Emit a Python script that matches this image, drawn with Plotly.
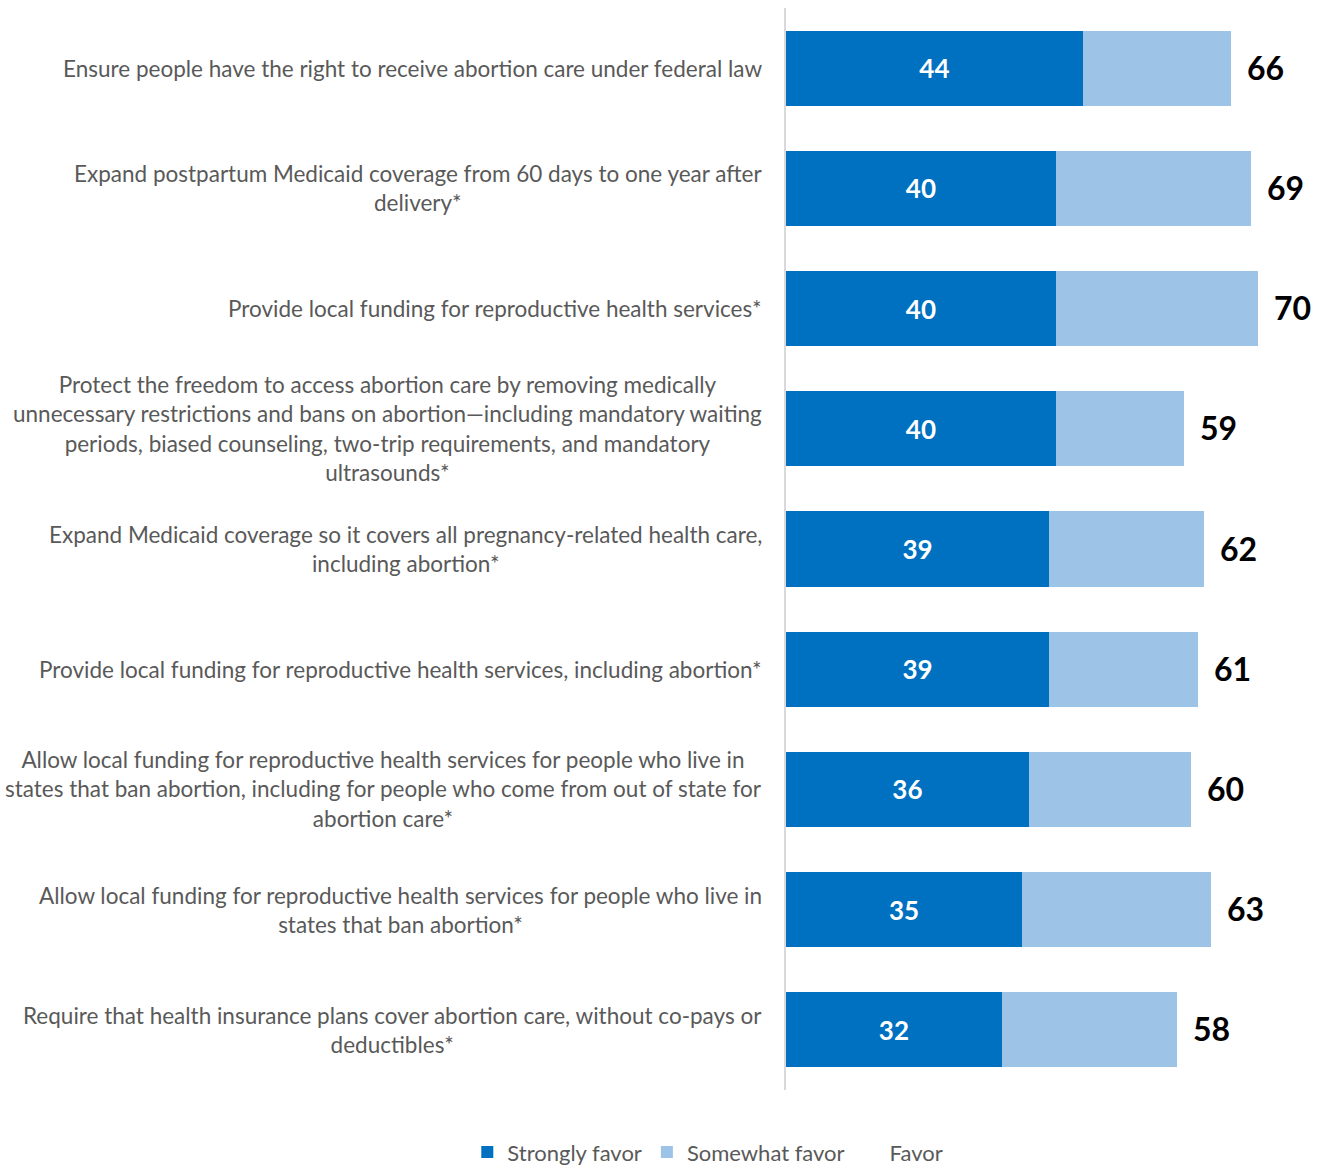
import plotly.graph_objects as go

categories = [
    "Ensure people have the right to receive abortion care under federal law",
    "Expand postpartum Medicaid coverage from 60 days to one year after<br>delivery*",
    "Provide local funding for reproductive health services*",
    "Protect the freedom to access abortion care by removing medically<br>unnecessary restrictions and bans on abortion\u2014including mandatory waiting<br>periods, biased counseling, two-trip requirements, and mandatory<br>ultrasounds*",
    "Expand Medicaid coverage so it covers all pregnancy-related health care,<br>including abortion*",
    "Provide local funding for reproductive health services, including abortion*",
    "Allow local funding for reproductive health services for people who live in<br>states that ban abortion, including for people who come from out of state for<br>abortion care*",
    "Allow local funding for reproductive health services for people who live in<br>states that ban abortion*",
    "Require that health insurance plans cover abortion care, without co-pays or<br>deductibles*",
]
strongly = [44, 40, 40, 40, 39, 39, 36, 35, 32]
favor = [66, 69, 70, 59, 62, 61, 60, 63, 58]
somewhat = [f - s for f, s in zip(favor, strongly)]

ids = [f"c{i}" for i in range(len(categories))]

fig = go.Figure()
fig.add_trace(go.Bar(
    y=ids, x=strongly, orientation="h", name="Strongly favor",
    marker=dict(color="#0070C0", line=dict(width=0)),
    text=[str(v) for v in strongly], textposition="inside", insidetextanchor="middle",
    textfont=dict(family="Lato", size=26, color="white", weight="bold"),
))
fig.add_trace(go.Bar(
    y=ids, x=somewhat, orientation="h", name="Somewhat favor",
    marker=dict(color="#9DC3E6", line=dict(width=0)),
    hoverinfo="skip",
))
fig.add_trace(go.Scatter(
    y=ids, x=favor, mode="markers", name="Favor",
    marker=dict(size=10, color="rgba(0,0,0,0)", symbol="square"),
    hoverinfo="x",
))

for cid, v in zip(ids, favor):
    fig.add_annotation(
        x=v, xref="x", y=cid, yref="y", text=str(v), showarrow=False,
        xanchor="left", yanchor="middle", xshift=14, yshift=1,
        font=dict(family="Lato", size=32, color="black", weight="bold"),
    )

for cid, label in zip(ids, categories):
    fig.add_annotation(
        x=0, xref="paper", y=cid, yref="y", text=label, showarrow=False,
        xanchor="right", yanchor="middle", align="center", xshift=-22,
        font=dict(family="Lato", size=22.5, color="#595959"),
    )

n = len(categories)
fig.update_layout(
    width=1323, height=1168,
    margin=dict(l=786, r=0, t=8, b=78, autoexpand=False),
    barmode="stack", bargap=0.376,
    plot_bgcolor="white", paper_bgcolor="white",
    font=dict(family="Lato", color="#595959"),
    xaxis=dict(range=[0, 79.6], visible=False, fixedrange=True),
    yaxis=dict(range=[n - 0.5, -0.5], showticklabels=False, showline=True,
               linecolor="#D9D9D9", linewidth=2, showgrid=False, zeroline=False,
               ticks=""),
    legend=dict(orientation="h", xref="container", x=0.535, xanchor="center",
                yref="container", y=0.0135, yanchor="middle",
                font=dict(family="Lato", size=22, color="#595959"),
                itemwidth=30, traceorder="normal"),
    showlegend=True,
)

fig.write_html("out.html")
